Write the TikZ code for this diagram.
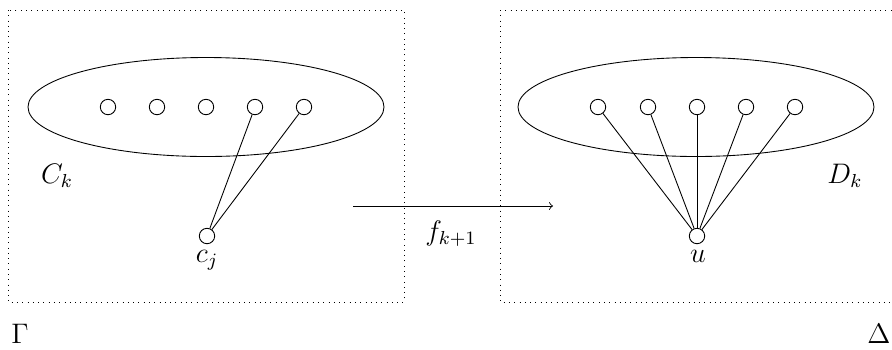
\documentclass[tikz,border=0pt]{standalone}
\usepackage{graphicx}
\newcommand{\lbl}[1]{\scalebox{1.07}{#1}}
\begin{document}
\begin{tikzpicture}[x=0.4545pt,y=-0.4545pt,
  vert/.style={circle,draw,inner sep=0pt,minimum size=7pt},
  frame/.style={draw,dotted},
  lab/.style={font=\large,inner sep=0pt},
  edge/.style={draw}]
\useasboundingbox (0,0) rectangle (892,349);
% frames
\draw[frame] (8,10) rectangle (404,302);
\draw[frame] (500,10) -- (900,10);
\draw[frame] (500,10) -- (500,302) -- (900,302);
% left side
\draw (206,107) ellipse [x radius=178, y radius=49.5];
\foreach \i/\x in {1/108,2/157,3/206,4/255,5/304}
  \node[vert] (a\i) at (\x,107) {};
\node[vert] (cj) at (207,236) {};
\node[lab] (cjl) at (207,260) {\lbl{$c_j$}};
\draw[edge] (cj) -- (a4);
\draw[edge] (cj) -- (a5);
\node[lab] (Ck) at (57,176) {\lbl{$C_k$}};
% right side
\draw (696,107) ellipse [x radius=178, y radius=49.5];
\foreach \i/\x in {1/598,2/648,3/697,4/746,5/795}
  \node[vert] (b\i) at (\x,107) {};
\node[vert] (u) at (697,236) {};
\node[lab] (ul) at (698,256) {\lbl{$u$}};
\foreach \i in {1,...,5}
  \draw[edge] (u) -- (b\i);
\node[lab] (Dk) at (845,176) {\lbl{$D_k$}};
% arrow
\coordinate (s) at (353,206);
\coordinate (t) at (553,206);
\draw[->] (s) -- (t);
\node[lab] (f) at (451,234) {\lbl{$f_{k+1}$}};
% labels
\node[lab] (G) at (20,334) {\lbl{$\Gamma$}};
\node[lab] (D) at (879,334) {\lbl{$\Delta$}};
\end{tikzpicture}
\end{document}
